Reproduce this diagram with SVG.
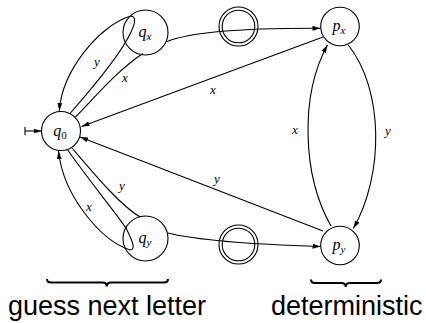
<svg xmlns="http://www.w3.org/2000/svg" width="426" height="323" viewBox="0 0 426 323">
<style>
.node{fill:#fff;stroke:#000;stroke-width:1.1}
.edge{fill:none;stroke:#000;stroke-width:1.1}
.arr{marker-end:url(#ah)}
.nl{font-family:"Liberation Serif",serif;font-style:italic;font-size:16px;text-anchor:middle}
.sub{font-size:11px}
.sr{font-style:normal}
.el{font-family:"Liberation Serif",serif;font-style:italic;font-size:13px;text-anchor:middle}
.brace{fill:none;stroke:#000;stroke-width:2}
.cap{font-family:"Liberation Sans",Arial,sans-serif;font-size:27px}
</style>
<defs>
<marker id="ah" viewBox="0 0 8 6" refX="8" refY="3" markerWidth="8" markerHeight="6" markerUnits="userSpaceOnUse" orient="auto">
<path d="M0,0.6 L8,3 L0,5.4 Z" fill="#000"/>
</marker>
</defs>
<g id="q0"><circle class="node" cx="61" cy="131" r="19.5"/><text class="nl" x="60" y="136">q<tspan class="sub sr" dy="3">0</tspan></text></g>
<g id="qx"><circle class="node" cx="145.5" cy="32.5" r="22.5"/><text class="nl" x="145" y="37">q<tspan class="sub" dy="3">x</tspan></text></g>
<g id="qy"><circle class="node" cx="145.5" cy="238.5" r="22.5"/><text class="nl" x="145" y="243">q<tspan class="sub" dy="3">y</tspan></text></g>
<g id="f1"><circle class="node" cx="238.5" cy="26.5" r="19.5"/><circle class="node" cx="238.5" cy="26.5" r="16.3"/></g>
<g id="f2"><circle class="node" cx="238.5" cy="244.5" r="19.5"/><circle class="node" cx="238.5" cy="244.5" r="16.3"/></g>
<g id="px"><circle class="node" cx="340" cy="26.5" r="19.3"/><text class="nl" x="339" y="31">p<tspan class="sub" dy="3">x</tspan></text></g>
<g id="py"><circle class="node" cx="340" cy="245.5" r="19.3"/><text class="nl" x="339" y="250">p<tspan class="sub" dy="3">y</tspan></text></g>
<g id="connectors">
<path class="edge" d="M25,127 L25,135"/>
<path class="edge arr" d="M25,131 L41.5,131"/>
<path class="edge" d="M70,113.5 C95,85 122,52 131,32 C137,20 135,15 129,16.5"/>
<path class="edge arr" d="M129,16.5 C100,26 62,70 59.3,111"/>
<path class="edge" d="M75.5,117 C95,97 120,68 143,53.5"/>
<path class="edge arr" d="M166.7,41.7 C190,32 240,28 320.5,28.3"/>
<path class="edge" d="M67,149 C85,175 115,212 126,228 C131,238 137,250 130,250"/>
<path class="edge arr" d="M130,250 C100,240 63,195 58.5,151"/>
<path class="edge" d="M72,148 C95,175 120,205 140,217"/>
<path class="edge arr" d="M168,233 C190,238.5 240,244 320.5,246.5"/>
<path class="edge arr" d="M323,37 L81.5,126.5"/>
<path class="edge arr" d="M323,231 L80,137"/>
<path class="edge arr" d="M331,226 C302,175 300,95 327.5,45"/>
<path class="edge arr" d="M348.3,45 C384,90 384,175 353.3,228.5"/>
</g>
<g id="labels">
<text class="el" x="97" y="66">y</text>
<text class="el" x="125" y="82">x</text>
<text class="el" x="213" y="94">x</text>
<text class="el" x="217" y="183">y</text>
<text class="el" x="122" y="190">y</text>
<text class="el" x="89" y="211">x</text>
<text class="el" x="295" y="134">x</text>
<text class="el" x="388" y="135">y</text>
</g>
<path class="brace" d="M47,279 Q47,282.5 51,282.5 L102.5,282.5 Q106.7,282.5 106.7,286.5 Q106.7,282.5 111,282.5 L164,282.5 Q168,282.5 168,279"/>
<path class="brace" d="M311,279.5 Q311,283 315,283 L341.5,283 Q345.7,283 345.7,287 Q345.7,283 350,283 L377,283 Q381,283 381,279.5"/>
<text class="cap" x="8" y="315">guess next letter</text>
<text class="cap" x="271" y="315">deterministic</text>
</svg>
